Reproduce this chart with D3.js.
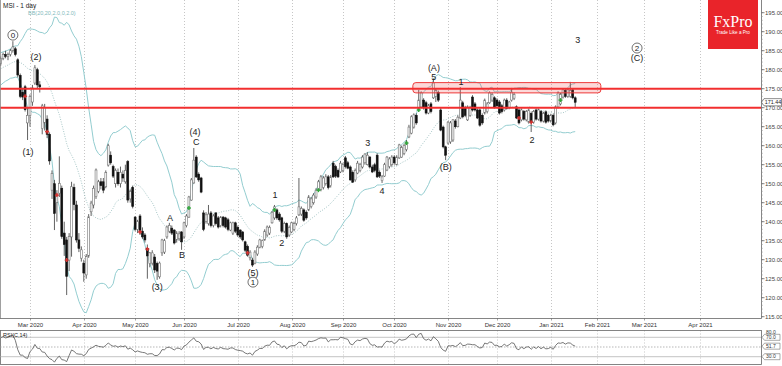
<!DOCTYPE html>
<html><head><meta charset="utf-8">
<script src="https://cdn.jsdelivr.net/npm/d3@7"></script>
<style>
html,body{margin:0;padding:0;background:#fff;}
svg{display:block;font-family:"Liberation Sans",Arial,sans-serif;}
</style></head><body>
<svg id="chart" width="782" height="366"></svg>
<script>
// ---------------- DATA ----------------
const title = "MSI - 1 day";
const bbLabel = "BB(20,20,2.0,0,2.0)";
const rsiLabel = "RSI(C,14)";
const firstBar = "2020-02-12";
const holidays = ["2020-02-17","2020-04-10","2020-05-25","2020-07-03","2020-09-07","2020-11-26","2020-12-25","2021-01-01","2021-01-18","2021-02-15","2021-04-02"];
// estimated closes of the sessions before the first visible bar (only used to seed BB / RSI)
const warmupCloses = [176,177,178,177.5,179,180,179,178,179.5,181,180.5,179.5,181,182,183,182.5,182,183,182.5];
const opens = [181.5,183,184,183.5,184,185,185.5,182.6,178.5,174,175.5,166,
168,171.5,176.5,180,176,164.5,166,167,163,148.3,150,145,147.5,148.8,137,135.2,129.9,136,149,144.4,135.2,130.4,
129.1,126,131,142.6,144.4,146.6,148,150.5,150.5,149.2,154.9,157.5,154.5,150,153,150,152.5,150.5,155.8,146,149,
141.2,138,141.5,137.5,136.5,133,129,129.1,130.7,129,125.5,131.8,132,136,137.5,138.3,137.8,135.2,135.5,137.3,
136,139,141.2,145.7,150.2,157,152.5,151.5,142.3,140,139.5,142.3,139,142.3,141,139,141.2,141,140.5,137.8,137,139.7,
138.5,137.8,137.3,134.7,133.5,130.5,129.9,129.1,131.5,133.3,133.5,135.2,136.5,137,139.7,141,143.1,142,141,137.5,139.5,136.5,
137.3,138,139.5,141.8,142,143.1,142.5,143.1,144,145,146.5,148.3,148.5,149,150,151.8,149.5,155.4,154.5,153.5,153.1,
153.5,156.8,155.5,154.4,153,151,152.8,153.5,154.4,155.5,155,157,154.4,155,157.5,153,150.8,152,153.6,154.5,155,
157,155,156.8,157,158,159,162.3,163.3,164.9,168,169.4,170.2,172,171.3,168.6,171,172.6,173,174,169.4,164.9,159.7,
160.7,161,161.5,166.5,165,167.3,171.3,170,166.8,168,172.8,171,169.4,169.4,168,168.6,169,171.3,172,172.6,
172,171.5,170.5,169.4,172,170,172,172.5,170.2,169.4,166.8,169,166.8,166.2,168.5,166.2,169.4,167,169,166.5,168.9,168,
166.5,168,166,170.2,171,172.8,174.5,173,173,174.7,172.6];
const highs = [183.5,184.5,185,184.5,185.5,187.5,186,183,179,175,176,170,
173.5,176,181.2,180.5,177,171,171,168,163.5,153.5,151,148.3,157.2,149.5,140,136,137,150.5,150,145.5,137,133.5,
130,131.5,142,145.5,149.5,154,151,151.5,151.5,153.5,160.5,158.5,155,154,154,154.5,153.5,155,156.2,148.5,149.5,
141.5,140.5,142,138.5,137,134,132,132.5,131.5,129.5,129.5,135.5,135.5,139,139.7,139,138,137.5,137.5,137.5,
140,142,146.8,151.5,159.4,157.5,153,151.8,143,142.5,144.4,142.8,142,142.5,141.5,141.5,141.5,141.3,141,140,140,140,
139,138,137.5,135,134,132.5,130.5,132.5,133.8,135.5,135.3,138,139,139,142.8,144.4,143.5,142.5,141.3,140,139.8,139,
140,140,141.5,151.5,144,143.5,143,147,146.5,147.5,148.8,151,152.3,152,152.5,152.3,152.3,156,155,154,156,
155.5,157.3,156,154.8,153.5,154,156,155.5,157.5,158,158.3,157.3,155,155.5,158,153.5,152.3,155.5,157.3,157,157.5,
157.5,157.5,160.5,160,160.5,161.5,165.5,168,168.5,168.5,174.7,174.3,172.5,171.8,171,171.5,177.7,175,174.5,170,165.3,160,
166.5,166.5,167,167,168,175.4,171.8,170.5,170.6,170.5,173.3,171.5,169.8,169.8,168.5,172.4,171.5,174.3,174,173,
172.5,172,171,172.4,172.5,171.8,175.2,174,170.6,169.8,169.8,169.4,169.4,169.8,169,169.4,169.8,169.8,169.4,168.9,169.3,168.4,
168.4,168.4,170.6,174.3,173.9,175.1,174.9,175.1,176.8,175,173];
const lows = [181,182.5,183,182.5,183.5,184.5,183.5,178,172.5,172,169,161.5,
165,170.5,176,175,174,163,164,162,155,146,137.8,140,146.5,135.5,131,120.7,127,130.8,143,134.5,132,129.5,
124.2,125,130.5,141.5,143.5,146,147.5,148.5,147.5,148.8,154.5,155,151.5,149,149.5,149,150.5,150,145,145,143.5,
137.5,137,136.5,135.5,134.5,125,128,128.5,126.5,124.7,125,131,131.5,135.5,137,136.5,134,134.5,135,132.6,
135.5,138.5,141,145.5,150,151.5,150.5,147.5,137.5,139.5,139,138.5,138.5,139,138.2,138.5,138.5,138.2,137.5,137.5,136.5,137,
136,135.5,134.8,132,130.8,129.8,128.1,128.8,131,133,133,135,136,136.5,139.5,140.5,140.5,140,137,137,135.5,136,
137,137.5,139,141.5,141.5,140,140.5,142.8,143.5,144.5,146,148,148,148.5,149.5,148.5,149,151.5,151.5,151.5,152.8,
153,154,153.8,150.8,150.2,150.5,152.5,153,154,155,154.8,154,152.8,153,151.5,151.5,150.2,151.8,153.3,154,154.5,
155,154.8,156.5,156.8,157.5,158.5,162,163,164.5,165.5,169,170,169.5,168.2,168.3,168.5,172.3,171.5,171.5,163.8,159.3,156.2,
160.3,160.5,161,164.5,164.8,167,167.2,167.5,166.5,167.6,169,169,167,165,165.5,168.2,168.5,171,171.5,169.8,
170,168.2,168.5,169,169.5,169.6,171.6,172,167,165.6,166.4,166.6,166.4,165.8,163.6,165.8,166.6,166.6,166.1,166.1,165.8,166.1,
166.1,165.1,165.6,169.8,170.6,172.4,172.6,172.6,172.6,172.2,170.2];
const closes = [183,184,183.5,184,185,186,184,178.6,173,172.8,169.5,168,
173,175.2,180.5,176,175.5,170.5,170,163,156,152.7,142.2,147,150.1,136.1,134,125.6,136.1,149.2,144.5,135.2,133,132.6,
126.5,130.8,141.3,144.9,148.8,153.6,150.5,149.5,148.3,152.9,160,155.5,152,153.5,150,153,151.5,153.5,145.7,148,144,
138,140,137.5,136,135.2,131,131.8,131.8,127.3,127,129.1,135.2,135,138.6,139,137,134.4,137,136.8,134.7,
139.7,141.5,146.5,151,156.2,151.8,151,147.8,138,141.8,142,139,141.5,139.5,138.6,141.2,139,138.6,138,139.7,139.7,137.5,
136.5,136,135.2,132.5,131.2,132,128.6,132,133.3,135.2,135,137.5,138.6,138.5,142.5,143.9,141,140.5,137.5,139.5,136,138.5,
139.7,139.5,141,143.9,143.5,140.4,141,146.5,146,147,148.3,150.5,151.8,151.5,151.8,149,151.8,151.8,152,151.8,155.4,
155,154.5,154.1,151,150.4,153.5,155.4,155,157,157.8,157.5,154.4,153.1,153.5,151.8,152,151.8,155,157,156.5,157,
155.5,157,160.2,159.5,160,161,164.9,167.6,168.1,166,172,173.9,170,168.6,170.5,169,176.5,174.5,172,164.1,159.7,157.5,
166.2,166,166.8,165,167.5,172,167.6,168,170.2,170,169.4,169.4,167.3,165.4,166,172,171,173.9,173.5,170.2,
170.5,168.6,169,172,169.8,171.5,174.1,173.5,167.3,166,169.4,167,169,169.4,166.2,169,167,169.4,166.5,168.5,166.2,166.5,
168,165.5,170.2,173.9,173.5,174.7,173,174.7,174.5,172.6,171.44];
const lastPrice = 171.44;
const monthLabels = ["Mar 2020","Apr 2020","May 2020","Jun 2020","Jul 2020","Aug 2020","Sep 2020","Oct 2020","Nov 2020","Dec 2020","Jan 2021","Feb 2021","Mar 2021","Apr 2021"];
const monthKeys = ["2020-03","2020-04","2020-05","2020-06","2020-07","2020-08","2020-09","2020-10","2020-11","2020-12","2021-01","2021-02","2021-03","2021-04"];
const priceTicks = [115,120,125,130,135,140,145,150,155,160,165,170,175,180,185,190,195];
const levelLines = [175, 170];
// resistance zone (bar index range, price range)
const zoneBars = [168.6, 245.5];
const zonePrices = [173.9, 176.6];
// indicator signal marks (bar index, price, colour)
const signalBar = [10,19,23,27,57,60,101,212,217,77,112,130,166,171,229];
const signalPrice = [173,163.7,147,129.9,137.3,132.8,131.8,167.3,166.2,143.6,143.1,148.3,160.7,169.4,172];
const signalKind = ["r","r","r","r","r","r","r","r","r","g","g","g","g","g","g"];
// wave labels
const waveText = ["0","(1)","(2)","(3)","(4)","C","A","B","(5)","1","1","2","3","4","(A)","5","(B)","1","2","3","2","(C)"];
const waveBar = [5,11.2,14.5,64,79.5,80,69.3,74.2,103.2,103.2,112.2,115,150.2,156,177.2,177.2,182.1,188.3,217.3,236.1,260.3,260.3];
const wavePrice = [189.1,158.3,183.3,122.8,163.6,161,141,131.2,126.5,124.1,147,134.4,160.7,148.1,180.5,178.1,154.4,176.8,161.5,187.8,185.7,183.1];
const waveCircled = [1,0,0,0,0,0,0,0,0,1,0,0,0,0,0,0,0,0,0,0,1,0];
const rsiLevels = [70,50,30];
const rsiAxisText = ["80.0","70.0","50.0","30.0"];
const rsiAxisVal = [80,70,50,30];

// ---------------- LAYOUT ----------------
const plot = {left:0, right:761, top:0, bottom:318.5};
const rsiPanel = {top:330.5, bottom:364.5};
const viewBars = [-0.27, 311];

const svg = d3.select("#chart");
svg.append("rect").attr("width",782).attr("height",366).attr("fill","#fff");

// trading days
const holSet = new Set(holidays);
const fmt = d3.timeFormat("%Y-%m-%d");
const days = [];
for (let d = d3.timeParse("%Y-%m-%d")(firstBar); days.length < 330; d = d3.timeDay.offset(d,1)) {
  const wd = d.getDay();
  if (wd === 0 || wd === 6 || holSet.has(fmt(d))) continue;
  days.push(new Date(d));
}
const monthIdx = monthKeys.map(k => days.findIndex(d => d3.timeFormat("%Y-%m")(d) === k));

const x = d3.scaleLinear().domain(viewBars).range([plot.left, plot.right]);
const y = d3.scaleLinear().domain([115,195]).range([316.7,12.7]);
const yr = d3.scaleLinear().domain([30,70]).range([356.7,337.3]);

// clip
const defs = svg.append("defs");
defs.append("clipPath").attr("id","clipMain").append("rect")
  .attr("x",plot.left).attr("y",plot.top).attr("width",plot.right-plot.left).attr("height",plot.bottom-plot.top);
defs.append("clipPath").attr("id","clipRsi").append("rect")
  .attr("x",plot.left).attr("y",rsiPanel.top).attr("width",plot.right-plot.left).attr("height",rsiPanel.bottom-rsiPanel.top);

// grid lines
const grid = svg.append("g");
monthIdx.forEach(i => {
  const gx = Math.round(x(i)) + 0.5;
  grid.append("line").attr("x1",gx).attr("x2",gx).attr("y1",0).attr("y2",plot.bottom)
    .attr("stroke","#b8b8b8").attr("stroke-width",0.8).attr("stroke-dasharray","1,2");
  grid.append("line").attr("x1",gx).attr("x2",gx).attr("y1",rsiPanel.top).attr("y2",rsiPanel.bottom)
    .attr("stroke","#b8b8b8").attr("stroke-width",0.8).attr("stroke-dasharray","1,2");
});

// bollinger
const allC = warmupCloses.concat(closes);
const off = warmupCloses.length;
const bb = closes.map((c,i) => {
  const w = allC.slice(i+off-19, i+off+1);
  const m = d3.mean(w);
  const sd = Math.sqrt(d3.mean(w, v => (v-m)*(v-m)));
  return {i, m, u:m+2*sd, l:m-2*sd};
});
const gMain = svg.append("g").attr("clip-path","url(#clipMain)");
const bandLine = key => d3.line().x(d => x(d.i)).y(d => y(d[key]));
gMain.append("path").datum(bb).attr("d",bandLine("u")).attr("fill","none").attr("stroke","#93cdd0").attr("stroke-width",1);
gMain.append("path").datum(bb).attr("d",bandLine("l")).attr("fill","none").attr("stroke","#93cdd0").attr("stroke-width",1);
gMain.append("path").datum(bb).attr("d",bandLine("m")).attr("fill","none").attr("stroke","#8fb7b8").attr("stroke-width",0.8).attr("stroke-dasharray","1,1.5");

// candles
const bars = closes.map((c,i) => ({i, o:opens[i], h:highs[i], l:lows[i], c}));
const bw = 1.9;
const cg = gMain.append("g");
bars.forEach(b => {
  const cx = x(b.i);
  cg.append("line").attr("x1",cx).attr("x2",cx).attr("y1",y(b.h)).attr("y2",y(b.l))
    .attr("stroke","#3a3a3a").attr("stroke-width",0.8);
  const up = b.c >= b.o;
  const top = y(Math.max(b.o,b.c)), bot = y(Math.min(b.o,b.c));
  cg.append("rect").attr("x",cx-bw/2).attr("y",top).attr("width",bw).attr("height",Math.max(0.8,bot-top))
    .attr("fill", up ? "#fff" : "#111").attr("stroke", up ? "#707070" : "#111").attr("stroke-width",0.6);
});

// signals
signalBar.forEach((b,k) => {
  const cx = x(b), cy = y(signalPrice[k]);
  const col = signalKind[k] === "r" ? "#d8322f" : "#2fa838";
  gMain.append("line").attr("x1",cx-2).attr("x2",cx+2).attr("y1",cy).attr("y2",cy).attr("stroke",col).attr("stroke-width",1.4);
  gMain.append("line").attr("x1",cx).attr("x2",cx).attr("y1",cy-2).attr("y2",cy+2).attr("stroke",col).attr("stroke-width",1.4);
});

// zone + level lines
gMain.append("rect").attr("x",x(zoneBars[0])).attr("y",y(zonePrices[1]))
  .attr("width",x(zoneBars[1])-x(zoneBars[0])).attr("height",y(zonePrices[0])-y(zonePrices[1]))
  .attr("rx",3).attr("fill","rgba(240,80,80,0.22)").attr("stroke","#ee3b3b").attr("stroke-width",1);
levelLines.forEach(p => {
  gMain.append("line").attr("x1",plot.left).attr("x2",plot.right).attr("y1",y(p)).attr("y2",y(p))
    .attr("stroke","#f22f2f").attr("stroke-width",2);
});

// wave labels
const wg = svg.append("g");
waveText.forEach((t,k) => {
  const cx = x(waveBar[k]), cy = y(wavePrice[k]);
  if (waveCircled[k]) {
    wg.append("circle").attr("cx",cx).attr("cy",cy).attr("r",5).attr("fill","none").attr("stroke","#333").attr("stroke-width",0.7);
  }
  wg.append("text").attr("x",cx).attr("y",cy).attr("dy","0.35em").attr("text-anchor","middle")
    .attr("font-size", waveCircled[k] ? 8 : 9).attr("fill","#222").text(t);
});

// titles
svg.append("text").attr("x",3).attr("y",8).attr("font-size",6.5).attr("fill","#222").text(title);
svg.append("text").attr("x",28).attr("y",15).attr("font-size",5.5).attr("fill","#7fb9bb").text(bbLabel);

// frame
svg.append("line").attr("x1",0.5).attr("x2",0.5).attr("y1",0).attr("y2",plot.bottom).attr("stroke","#888").attr("stroke-width",0.8);
svg.append("line").attr("x1",0).attr("x2",plot.right+0.5).attr("y1",plot.bottom).attr("y2",plot.bottom).attr("stroke","#666").attr("stroke-width",0.8);
svg.append("line").attr("x1",plot.right+0.5).attr("x2",plot.right+0.5).attr("y1",0).attr("y2",plot.bottom).attr("stroke","#666").attr("stroke-width",0.8);

// price axis
const ax = svg.append("g");
d3.range(115,196,1).forEach(p => {
  ax.append("line").attr("x1",plot.right+0.5).attr("x2",plot.right+2).attr("y1",y(p)).attr("y2",y(p)).attr("stroke","#999").attr("stroke-width",0.5);
});
priceTicks.forEach(p => {
  ax.append("line").attr("x1",plot.right+0.5).attr("x2",plot.right+3.5).attr("y1",y(p)).attr("y2",y(p)).attr("stroke","#555").attr("stroke-width",0.7);
  if (Math.abs(p - lastPrice) > 2.2 || p === 170)
  ax.append("text").attr("x",765).attr("y",y(p)).attr("dy","0.35em").attr("font-size",6).attr("fill","#444").text(p.toFixed(2));
});
// last price tag
const ly = y(lastPrice);
ax.append("path").attr("d",`M761.5,${ly} L764,${ly-3.6} L781.5,${ly-3.6} L781.5,${ly+3.6} L764,${ly+3.6} Z`)
  .attr("fill","#fff").attr("stroke","#444").attr("stroke-width",0.6);
ax.append("text").attr("x",764.8).attr("y",ly).attr("dy","0.35em").attr("font-size",5.4).attr("fill","#222").text(lastPrice.toFixed(2));

// logo
const logo = svg.append("g");
logo.append("rect").attr("x",708).attr("y",0).attr("width",50).attr("height",49).attr("fill","#e9242a");
logo.append("text").attr("x",733).attr("y",27).attr("text-anchor","middle").attr("font-family","'Liberation Serif','DejaVu Serif',serif")
  .attr("font-size",16).attr("fill","#fff").text("FxPro");
logo.append("text").attr("x",733).attr("y",34).attr("text-anchor","middle").attr("font-size",4.6).attr("fill","#fff").text("Trade Like a Pro");

// date axis
monthIdx.forEach((i,k) => {
  const gx = Math.round(x(i)) + 0.5;
  svg.append("line").attr("x1",gx).attr("x2",gx).attr("y1",plot.bottom).attr("y2",plot.bottom+2).attr("stroke","#666").attr("stroke-width",0.6);
  svg.append("text").attr("x",gx).attr("y",326.5).attr("text-anchor","middle").attr("font-size",6).attr("fill","#333").text(monthLabels[k]);
});

// RSI panel
const rp = svg.append("g");
rp.append("rect").attr("x",0.5).attr("y",rsiPanel.top).attr("width",plot.right).attr("height",rsiPanel.bottom-rsiPanel.top)
  .attr("fill","none").attr("stroke","#666").attr("stroke-width",0.8);
rsiLevels.forEach(v => {
  rp.append("line").attr("x1",0).attr("x2",plot.right).attr("y1",yr(v)).attr("y2",yr(v))
    .attr("stroke", v === 50 ? "#999" : "#aaa").attr("stroke-width",0.7).attr("stroke-dasharray", v === 50 ? "1.5,1.5" : null);
});
// RSI(14) Wilder
const rsi = [];
let ag = 0, al = 0;
for (let j = 1; j <= 14; j++) { const ch = allC[j]-allC[j-1]; if (ch>0) ag+=ch; else al-=ch; }
ag/=14; al/=14;
for (let j = 15; j < allC.length; j++) {
  const ch = allC[j]-allC[j-1];
  ag = (ag*13 + Math.max(ch,0))/14;
  al = (al*13 + Math.max(-ch,0))/14;
  if (j >= off) rsi.push({i:j-off, v: al===0?100:100-100/(1+ag/al)});
}
rp.append("path").datum(rsi).attr("clip-path","url(#clipRsi)")
  .attr("d", d3.line().x(d=>x(d.i)).y(d=>yr(d.v)))
  .attr("fill","none").attr("stroke","#555").attr("stroke-width",0.8);
rp.append("text").attr("x",3).attr("y",337).attr("font-size",5.5).attr("fill","#222").text(rsiLabel);
const lastRsi = rsi[rsi.length-1].v;
rsiAxisVal.forEach((v,k) => {
  const ty = yr(v);
  if (ty < rsiPanel.top) return;
  if (v !== 50 && v !== 80) {
    rp.append("path").attr("d",`M762,${ty} L764.5,${ty-3} L780,${ty-3} L780,${ty+3} L764.5,${ty+3} Z`).attr("fill","#fff").attr("stroke","#555").attr("stroke-width",0.5);
  }
  rp.append("text").attr("x",766).attr("y",ty).attr("dy","0.35em").attr("font-size",5).attr("fill","#333").text(rsiAxisText[k]);
});
const lry = yr(lastRsi);
rp.append("path").attr("d",`M762,${lry} L764.5,${lry-3} L780,${lry-3} L780,${lry+3} L764.5,${lry+3} Z`).attr("fill","#fff").attr("stroke","#555").attr("stroke-width",0.5);
rp.append("text").attr("x",766).attr("y",lry).attr("dy","0.35em").attr("font-size",5).attr("fill","#333").text(lastRsi.toFixed(1));
</script>
</body></html>
